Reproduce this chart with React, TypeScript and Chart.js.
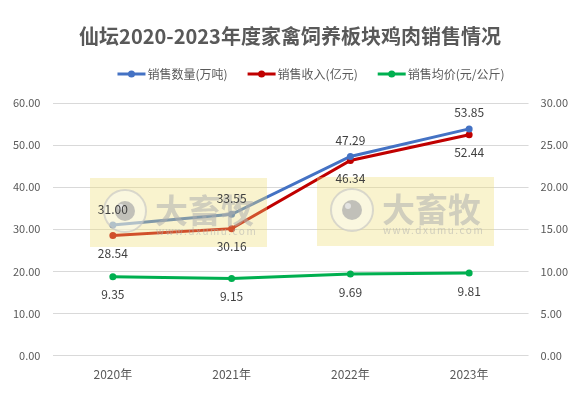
import React, { useEffect, useRef } from "react";
import { Chart, registerables } from "chart.js";

Chart.register(...registerables);

const categories = ["2020年", "2021年", "2022年", "2023年"];
const volumeValues = [31.0, 33.55, 47.29, 53.85];
const revenueValues = [28.54, 30.16, 46.34, 52.44];
const priceValues = [9.35, 9.15, 9.69, 9.81];
const seriesNames = ["销售数量(万吨)", "销售收入(亿元)", "销售均价(元/公斤)"];
const seriesColors = ["#4472C4", "#C00000", "#00B050"];
const labelPlacement = ["above", "below", "below"];

const FONT = "'Noto Sans CJK SC', 'Noto Sans', sans-serif";

const legendPlugin = {
  id: "customLegend",
  afterDraw(chart: any) {
    const ctx = chart.ctx;
    ctx.save();
    ctx.font = `12px ${FONT}`;
    ctx.textBaseline = "middle";
    ctx.textAlign = "left";
    const iconW = 28;
    const gapIconText = 2;
    const gapItems = 20;
    const widths = seriesNames.map((n) => iconW + gapIconText + ctx.measureText(n).width);
    const total = widths.reduce((a, b) => a + b, 0) + gapItems * (widths.length - 1);
    let x = chart.width / 2 + 18 - total / 2;
    const y = 74;
    seriesNames.forEach((n, i) => {
      ctx.strokeStyle = seriesColors[i];
      ctx.lineWidth = 3;
      ctx.beginPath();
      ctx.moveTo(x, y);
      ctx.lineTo(x + iconW, y);
      ctx.stroke();
      ctx.fillStyle = seriesColors[i];
      ctx.beginPath();
      ctx.arc(x + iconW / 2, y, 3.5, 0, Math.PI * 2);
      ctx.fill();
      ctx.fillStyle = "#595959";
      ctx.fillText(n, x + iconW + gapIconText, y);
      x += widths[i] + gapItems;
    });
    ctx.restore();
  },
};

const watermarkPlugin = {
  id: "watermark",
  afterDatasetsDraw(chart: any) {
    const ctx = chart.ctx;
    const boxes = [
      [90, 178, 177, 69],
      [317, 177, 177, 69],
    ];
    ctx.save();
    for (const [x, y, w, h] of boxes) {
      ctx.fillStyle = "rgba(238, 222, 120, 0.36)";
      ctx.fillRect(x, y, w, h);
      ctx.strokeStyle = "rgba(195,195,195,0.6)";
      ctx.lineWidth = 2;
      ctx.fillStyle = "rgba(252,252,250,0.4)";
      ctx.beginPath();
      ctx.arc(x + 35, y + 33, 21, 0, Math.PI * 2);
      ctx.fill();
      ctx.stroke();
      ctx.fillStyle = "rgba(170,170,170,0.7)";
      ctx.beginPath();
      ctx.arc(x + 35, y + 33, 10, 0, Math.PI * 2);
      ctx.fill();
      ctx.fillStyle = "rgba(235,235,235,0.8)";
      ctx.beginPath();
      ctx.arc(x + 31, y + 29, 3, 0, Math.PI * 2);
      ctx.fill();
      ctx.fillStyle = "rgba(175,175,175,0.55)";
      ctx.font = `bold 33px ${FONT}`;
      ctx.textAlign = "left";
      ctx.textBaseline = "middle";
      ctx.fillText("大畜牧", x + 65, y + 32);
      ctx.font = `10px ${FONT}`;
      (ctx as any).letterSpacing = "1.5px";
      ctx.fillText("www.dxumu.com", x + 66, y + 53);
      (ctx as any).letterSpacing = "0px";
    }
    ctx.restore();
  },
};

const labelPlugin = {
  id: "pointLabels",
  afterDatasetsDraw(chart: any) {
    const ctx = chart.ctx;
    ctx.save();
    ctx.font = `12px ${FONT}`;
    ctx.fillStyle = "#404040";
    ctx.textAlign = "center";
    ctx.textBaseline = "middle";
    chart.data.datasets.forEach((ds: any, i: number) => {
      const meta = chart.getDatasetMeta(i);
      meta.data.forEach((pt: any, j: number) => {
        const v = ds.data[j] as number;
        const dy = labelPlacement[i] === "above" ? -16 : 18;
        ctx.fillText(v.toFixed(2), pt.x, pt.y + dy);
      });
    });
    ctx.restore();
  },
};

export default function App() {
  const ref = useRef<HTMLCanvasElement>(null);
  useEffect(() => {
    document.body.style.margin = "0";
    const allValues = [volumeValues, revenueValues, priceValues];
    const chart = new Chart(ref.current!, {
      type: "line",
      data: {
        labels: categories,
        datasets: allValues.map((vals, i) => ({
          label: seriesNames[i],
          data: vals,
          borderColor: seriesColors[i],
          backgroundColor: seriesColors[i],
          borderWidth: 3,
          pointRadius: 3.5,
          pointBorderWidth: 0,
          pointStyle: "circle",
          tension: 0,
          yAxisID: i === 2 ? "y1" : "y",
        })),
      },
      options: {
        animation: false,
        responsive: true,
        maintainAspectRatio: false,
        devicePixelRatio: 1,
        layout: { padding: { left: 0, right: 6, top: 14, bottom: 14 } },
        plugins: {
          title: {
            display: true,
            text: "仙坛2020-2023年度家禽饲养板块鸡肉销售情况",
            color: "#595959",
            font: { family: FONT, size: 20, weight: "bold" },
            padding: { top: 10, bottom: 55 },
          },
          legend: { display: false },
          tooltip: { enabled: false },
        },
        scales: {
          x: {
            offset: true,
            grid: { display: false },
            border: { display: false },
            ticks: { color: "#595959", font: { family: FONT, size: 12 }, padding: 4 },
          },
          y: {
            position: "left",
            min: 0,
            max: 60,
            ticks: {
              stepSize: 10,
              color: "#595959",
              font: { family: FONT, size: 11 },
              padding: 13,
              callback: (v: any) => Number(v).toFixed(2),
            },
            grid: { color: "#d9d9d9", lineWidth: 1, drawTicks: false },
            border: { display: false },
          },
          y1: {
            position: "right",
            min: 0,
            max: 30,
            ticks: {
              stepSize: 5,
              color: "#595959",
              font: { family: FONT, size: 11 },
              padding: 12,
              callback: (v: any) => Number(v).toFixed(2),
            },
            grid: { display: false, drawTicks: false },
            border: { display: false },
          },
        },
      },
      plugins: [watermarkPlugin, labelPlugin, legendPlugin],
    });
    return () => chart.destroy();
  }, []);
  return (
    <div style={{ width: 586, height: 400, position: "relative" }}>
      <canvas ref={ref} />
    </div>
  );
}
